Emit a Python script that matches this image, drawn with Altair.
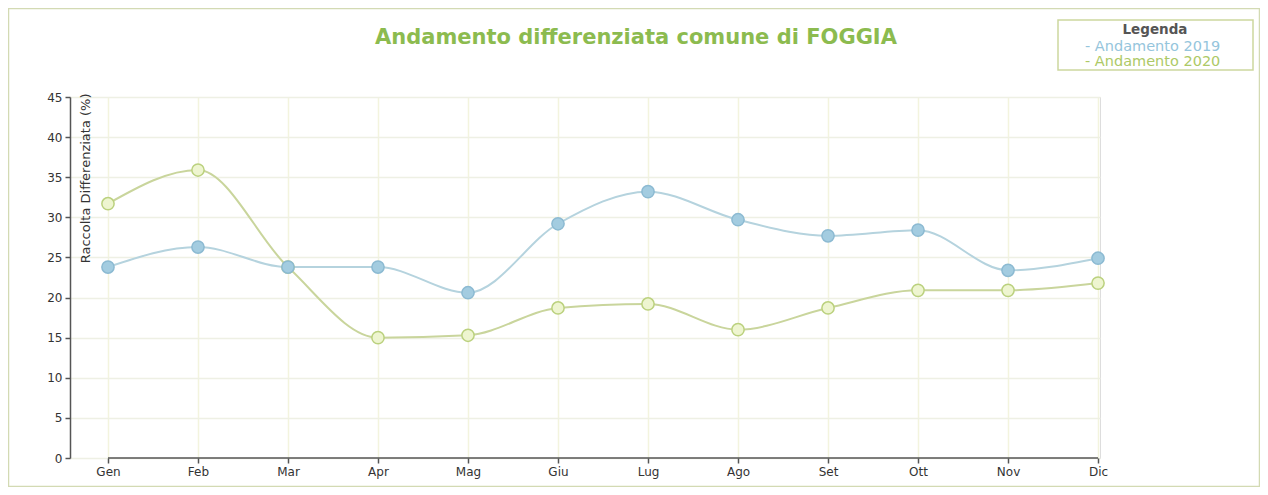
import altair as alt
import pandas as pd

months = ["Gen", "Feb", "Mar", "Apr", "Mag", "Giu", "Lug", "Ago", "Set", "Ott", "Nov", "Dic"]
series_names = ["Andamento 2019", "Andamento 2020"]
values_2019 = [23.8, 26.3, 23.8, 23.8, 20.6, 29.2, 33.2, 29.7, 27.7, 28.4, 23.4, 24.9]
values_2020 = [31.7, 35.9, 23.8, 15.0, 15.3, 18.7, 19.2, 16.0, 18.7, 20.9, 20.9, 21.8]
y_ticks = [0, 5, 10, 15, 20, 25, 30, 35, 40, 45]

line_colors = ["#b5d3de", "#c9d59c"]
point_fill = ["#a3cce0", "#eef5d0"]
point_stroke = ["#8cbad2", "#bbd17e"]
text_colors = ["#95c5dc", "#adc966"]

rows = []
for name, vals in [(series_names[1], values_2020), (series_names[0], values_2019)]:
    for i, v in enumerate(vals):
        rows.append({"idx": i, "mese": months[i], "serie": name, "valore": v})
df = pd.DataFrame(rows)

axis_df = pd.DataFrame({"start": [0], "end": [len(months) - 1]})

label_expr = "[" + ",".join("'%s'" % m for m in months) + "][datum.value]"

x_scale = alt.Scale(domain=[-0.422, 11.022], nice=False, zero=False)
y_scale = alt.Scale(domain=[0, 45], nice=False)

x_axis = alt.Axis(
    values=list(range(len(months))),
    labelExpr=label_expr,
    domain=False,
    grid=True,
    gridColor="#f3f4de",
    gridWidth=1.5,
    tickColor="#555555",
    tickSize=5,
    tickWidth=1.5,
    labelFont="DejaVu Sans",
    labelFontSize=12,
    labelColor="#333333",
    labelPadding=3,
    title=None,
)
y_axis = alt.Axis(
    values=y_ticks,
    grid=True,
    gridColor="#eef0e4",
    gridWidth=1.5,
    domainColor="#555555",
    domainWidth=1.5,
    tickColor="#555555",
    tickSize=5,
    tickWidth=1.5,
    labelFont="DejaVu Sans",
    labelFontSize=12,
    labelColor="#333333",
    labelPadding=3,
    title="Raccolta Differenziata (%)",
    titleFont="DejaVu Sans",
    titleFontSize=13,
    titleFontWeight="normal",
    titleColor="#333333",
    titleAngle=-90,
    titleX=15,
    titleY=-4,
    titleAlign="right",
    titleBaseline="middle",
)

base = alt.Chart(df)

lines = base.mark_line(interpolate="monotone", strokeWidth=2).encode(
    x=alt.X("idx:Q", scale=x_scale, axis=x_axis),
    y=alt.Y("valore:Q", scale=y_scale, axis=y_axis),
    color=alt.Color("serie:N", scale=alt.Scale(domain=series_names, range=line_colors), legend=None),
)

points = base.mark_point(filled=True, size=150, strokeWidth=1.5, opacity=1).encode(
    x=alt.X("idx:Q", scale=x_scale),
    y=alt.Y("valore:Q", scale=y_scale),
    fill=alt.Fill("serie:N", scale=alt.Scale(domain=series_names, range=point_fill), legend=None),
    stroke=alt.Stroke("serie:N", scale=alt.Scale(domain=series_names, range=point_stroke), legend=None),
)

x_line = alt.Chart(axis_df).mark_rule(color="#555555", strokeWidth=1.5).encode(
    x=alt.X("start:Q", scale=x_scale),
    x2="end:Q",
    y=alt.datum(0),
)

# chart frame
frame = alt.Chart(axis_df).mark_rect(fill=None, stroke="#d3dab3", strokeWidth=1.5).encode(
    x=alt.value(-61.5), x2=alt.value(1189.5), y=alt.value(-88.5), y2=alt.value(389.5)
)

# legend box
leg_box = alt.Chart(axis_df).mark_rect(fill="white", stroke="#cdd79f", strokeWidth=1.5).encode(
    x=alt.value(988), x2=alt.value(1183), y=alt.value(-77), y2=alt.value(-27)
)
leg_title = alt.Chart(axis_df).mark_text(
    text="Legenda", font="DejaVu Sans", fontSize=13.5, fontWeight="bold", color="#555555",
    align="center", baseline="middle"
).encode(x=alt.value(1085), y=alt.value(-67))
leg_1 = alt.Chart(axis_df).mark_text(
    text="- " + series_names[0], font="DejaVu Sans", fontSize=14.5, color=text_colors[0],
    align="left", baseline="middle"
).encode(x=alt.value(1015), y=alt.value(-50))
leg_2 = alt.Chart(axis_df).mark_text(
    text="- " + series_names[1], font="DejaVu Sans", fontSize=14.5, color=text_colors[1],
    align="left", baseline="middle"
).encode(x=alt.value(1015), y=alt.value(-35))

chart = alt.layer(frame, x_line, lines, points, leg_box, leg_title, leg_1, leg_2).properties(
    width=1030,
    height=361,
    padding={"left": 62, "right": 160, "top": 89, "bottom": 29},
    autosize=alt.AutoSizeParams(type="none"),
    title=alt.Title(
        "Andamento differenziata comune di FOGGIA",
        font="DejaVu Sans",
        fontSize=21,
        fontWeight="bold",
        color="#8cbb4f",
        anchor="middle",
        frame="group",
        dx=51,
        offset=-40,
    ),
).configure_view(stroke=None).configure(background="white")

chart.save("out.html", embed_options={"renderer": "svg", "actions": False})
